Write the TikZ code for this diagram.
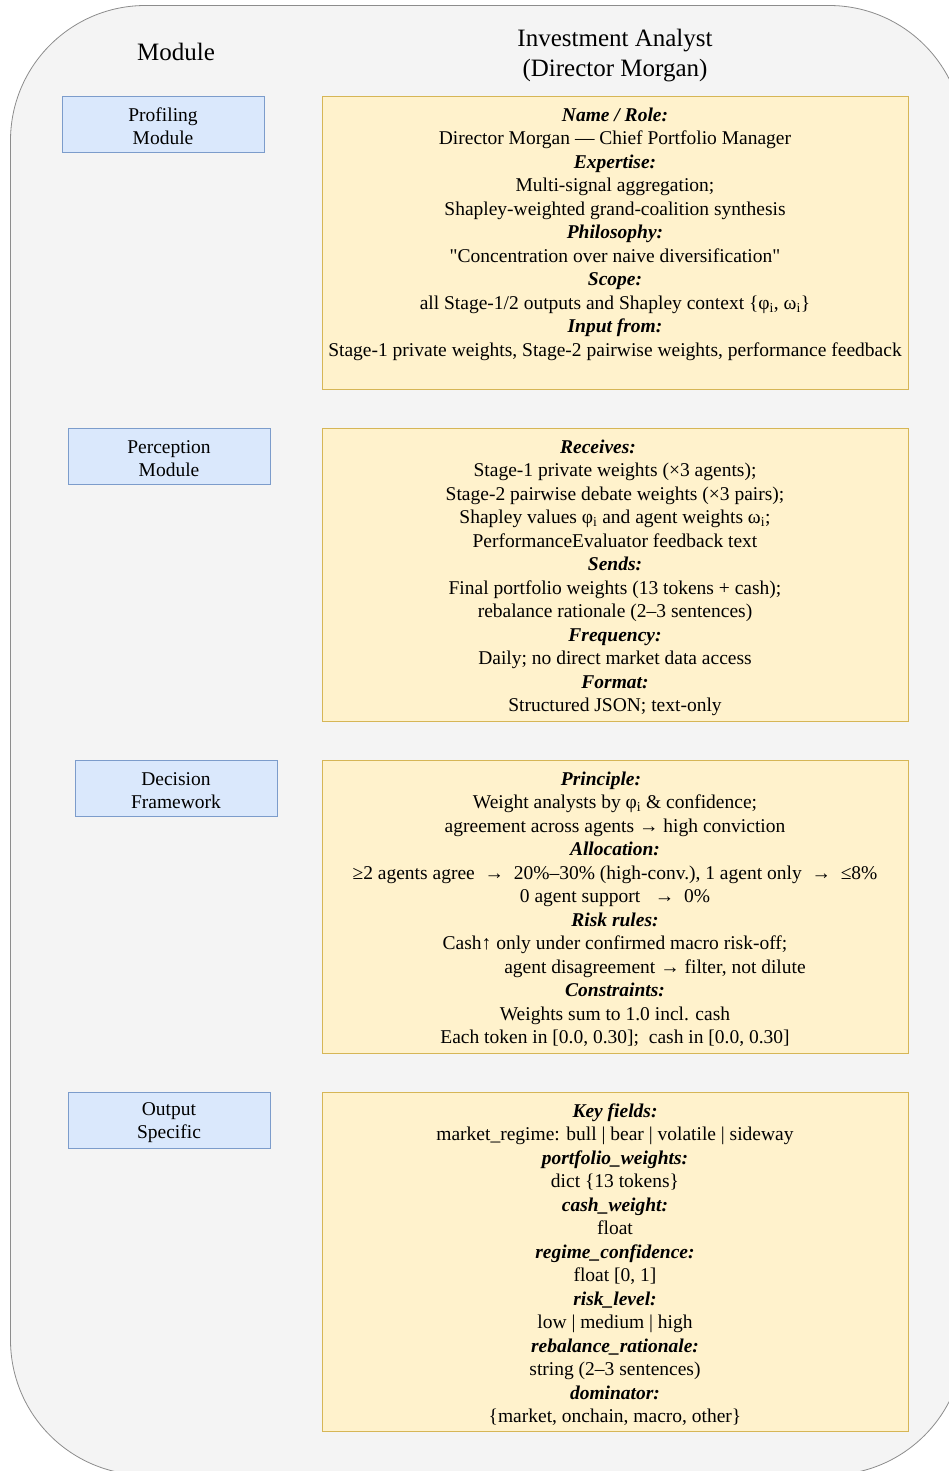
\documentclass[tikz,border=0pt]{standalone}
\usepackage{fontspec}
\setmainfont{Liberation Serif}
\definecolor{bgfill}{HTML}{F4F4F4}
\definecolor{bgline}{HTML}{8C8C8C}
\definecolor{yfill}{HTML}{FFF2CC}
\definecolor{yline}{HTML}{D6B656}
\definecolor{bfill}{HTML}{DAE8FC}
\definecolor{bline}{HTML}{7C9CCB}
\newcommand{\hd}[1]{\textbf{\textit{#1}}}
\newcommand{\sbi}{\textsubscript{i}}
\newcommand{\topgap}{\rule{0pt}{17.3pt}}
\begin{document}
\begin{tikzpicture}[x=1pt,y=-1pt,
  bgbox/.style={draw=bgline, fill=bgfill, line width=0.8pt, rounded corners=135pt},
  panel/.style={draw=yline, fill=yfill, line width=0.8pt, anchor=north west, inner sep=0pt, minimum width=586pt},
  mod/.style={draw=bline, fill=bfill, line width=0.8pt, minimum width=202pt, minimum height=56pt, inner sep=0pt, align=center, font=\fontsize{19.5}{23}\selectfont},
  body/.style={anchor=north, inner sep=0pt, align=center, font=\fontsize{19.5}{23.5}\selectfont},
  hdr/.style={inner sep=0pt, align=center, font=\fontsize{25}{30}\selectfont}
]
\useasboundingbox (0,0) rectangle (948,1471);
\draw[bgbox] (10.5,5.5) rectangle (964,1475);

% headers
\node[hdr] (hmod) at (176,52) {Module};
\node[hdr] (hinv) at (615,56) {Investment Analyst\\(Director Morgan)};

% module boxes
\node[mod] (m1) at (163,124) {\topgap Profiling\\Module};
\node[mod] (m2) at (169,456) {\topgap Perception\\Module};
\node[mod] (m3) at (176,788) {\topgap Decision\\Framework};
\node[mod] (m4) at (169,1120) {\topgap Output\\Specific};

% panels
\node[panel, minimum height=293pt] (p1) at (322,96) {};
\node[panel, minimum height=293pt] (p2) at (322,428) {};
\node[panel, minimum height=293pt] (p3) at (322,760) {};
\node[panel, minimum height=339pt] (p4) at (322,1092) {};

\node[body] (t1) at (615,104.55) {\strut\hd{Name / Role:}\\
Director Morgan — Chief Portfolio Manager\\
\hd{Expertise:}\\
Multi-signal aggregation;\\
Shapley-weighted grand-coalition synthesis\\
\hd{Philosophy:}\\
\textquotedbl Concentration over naive diversification\textquotedbl\\
\hd{Scope:}\\
all Stage-1/2 outputs and Shapley context \{φ\sbi, ω\sbi\}\\
\hd{Input from:}\\
Stage-1 private weights, Stage-2 pairwise weights, performance feedback};

\node[body] (t2) at (615,436.55) {\strut\hd{Receives:}\hspace*{34pt}\\
Stage-1 private weights (×3 agents);\\
Stage-2 pairwise debate weights (×3 pairs);\\
Shapley values φ\sbi{} and agent weights ω\sbi;\\
PerformanceEvaluator feedback text\\
\hd{Sends:}\hspace*{48pt}\\
Final portfolio weights (13 tokens + cash);\\
rebalance rationale (2–3 sentences)\\
\hd{Frequency:}\hspace*{50pt}\\
Daily; no direct market data access\\
\hd{Format:}\hspace*{50pt}\\
Structured JSON; text-only};

\node[body] (t3) at (615,768.55) {\strut\hd{Principle:}\hspace*{28pt}\\
Weight analysts by φ\sbi{} \& confidence;\\
agreement across agents → high conviction\\
\hd{Allocation:}\hspace*{16pt}\\
≥2 agents agree \ → \ 20\%–30\% (high-conv.), 1 agent only \ → \ ≤8\%\\
0 agent support \ \ → \ 0\%\\
\hd{Risk rules:}\hspace*{18pt}\\
Cash↑ only under confirmed macro risk-off;\hspace*{24pt}\\
\hspace*{80pt}agent disagreement → filter, not dilute\\
\hd{Constraints:}\hspace*{22pt}\\
Weights sum to 1.0 incl. cash\\
Each token in [0.0, 0.30]; \ cash in [0.0, 0.30]};

\node[body] (t4) at (615,1100.55) {\strut\hd{Key fields:}\\
market\_regime: bull | bear | volatile | sideway\hspace*{20pt}\\
\hd{portfolio\_weights:}\\
dict \{13 tokens\}\\
\hd{cash\_weight:}\\
float\\
\hd{regime\_confidence:}\\
float [0, 1]\\
\hd{risk\_level:}\\
low | medium | high\\
\hd{rebalance\_rationale:}\\
string (2–3 sentences)\\
\hd{dominator:}\\
\{market, onchain, macro, other\}};
\end{tikzpicture}
\end{document}
